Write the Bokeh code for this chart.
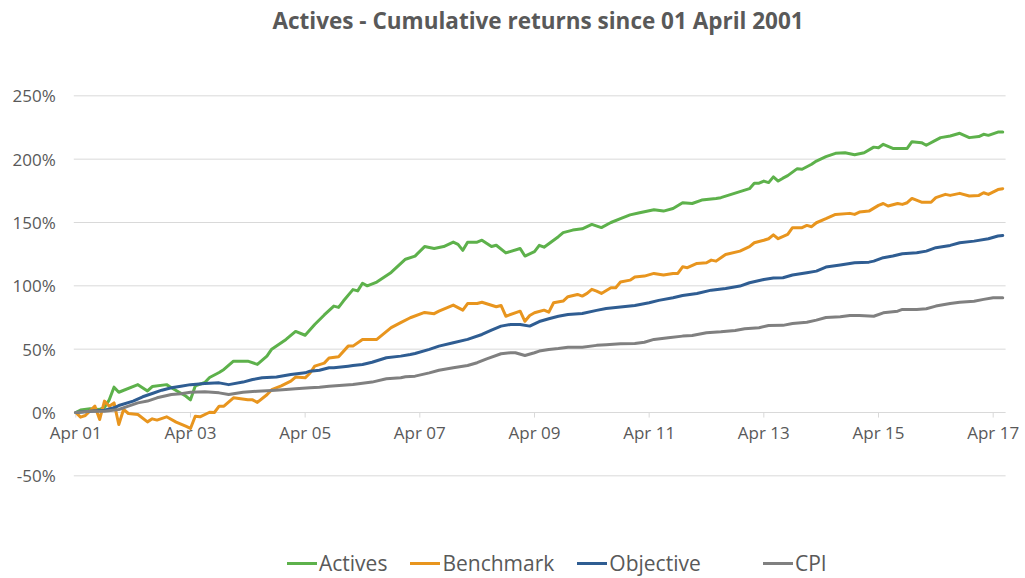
from bokeh.plotting import figure
from bokeh.models import Legend, LegendItem, Range1d, Title
from bokeh.core.properties import value
from bokeh.embed import file_html
from bokeh.resources import INLINE

TITLE = "Actives - Cumulative returns since 01 April 2001"

# x values: months since April 2001
tick_months = [0, 24, 48, 72, 96, 120, 144, 168, 192]
tick_labels = ["Apr 01", "Apr 03", "Apr 05", "Apr 07", "Apr 09", "Apr 11", "Apr 13", "Apr 15", "Apr 17"]
y_ticks = [-50, 0, 50, 100, 150, 200, 250]
y_tick_labels = ["-50%", "0%", "50%", "100%", "150%", "200%", "250%"]

actives_m = [0, 1, 3, 5, 6, 7, 8, 9, 13, 15, 16, 19, 20, 23, 24, 25, 27, 28, 30, 31, 33, 36, 38, 40, 41, 44, 46, 48, 50,
             52, 54, 55, 56, 58, 59, 60, 61, 63, 66, 69, 71, 73, 75, 77, 79, 80, 81, 82, 84, 85, 87, 88, 90, 93, 94,
             96, 97, 98, 101, 102, 104, 106, 108, 110, 112, 114, 116, 118, 121, 123, 125, 127, 129, 131, 134, 135,
             137, 141, 142, 143, 144, 145, 146, 147, 148, 149, 151, 152, 154, 155, 157, 159, 161, 163, 165, 167, 168,
             169, 171, 173, 174, 175, 177, 178, 180, 181, 183, 185, 187, 189, 190, 191, 193, 194]
actives_v = [0, 2, 3, 2.4, 4, 10, 20, 16, 22, 17, 20.5, 22, 19.6, 13, 10, 21, 23.7, 27.6, 31.6, 34, 40.5, 40.5, 38,
             44.5, 50, 57.7, 64, 61, 69.5, 77, 84, 83, 88, 97, 96, 102, 100, 103, 110.6, 121, 123.5, 131, 129.5,
             131, 134.5, 132.7, 128, 134.5, 134.5, 136, 131, 132, 126, 129.5, 123.5, 127, 132, 130.5, 138.8, 142,
             144, 145, 148.5, 146, 150, 153, 156, 157.7, 160, 159, 161, 165.6, 165, 167.7, 169, 169.6, 172, 176.7,
             181, 181, 182.7, 181.5, 186, 182.7, 185, 187, 192.5, 192, 196, 198.5, 202, 204.6, 205, 203.5, 205,
             209.5, 209, 211.7, 208.5, 208.5, 208.5, 213.8, 213, 211, 215, 217, 218.3, 220.4, 217, 217.8, 219.6,
             218.8, 221.4, 221.4]

bench_m = [0, 1, 2, 4, 5, 6, 7, 8, 9, 10, 11, 13, 15, 16, 17, 19, 21, 23, 24, 25, 26, 28, 29, 30, 31, 33, 36, 37, 38,
           40, 41, 43, 45, 46, 48, 49, 50, 52, 53, 55, 57, 58, 60, 63, 66, 68, 70, 73, 75, 76, 79, 81, 82, 84, 85,
           88, 89, 90, 93, 94, 95, 96, 98, 99, 100, 102, 103, 105, 106, 107, 108, 109, 110, 112, 113, 114, 116, 117,
           119, 121, 123, 125, 126, 127, 128, 130, 132, 133, 134, 136, 139, 141, 142, 144, 145, 146, 147, 149, 150,
           152, 153, 154, 155, 157, 159, 162, 163, 164, 166, 168, 169, 170, 172, 173, 174, 175, 177, 179, 180, 182,
           183, 185, 187, 189, 190, 191, 193, 194]
bench_v = [0, -3.7, -2.4, 5, -5.5, 9, 5, 7.6, -9.5, 2.4, -0.8, -1.6, -7.4, -5, -6, -3.4, -7.6, -10.8, -12.6, -2.9,
           -3.4, 0.2, 0, 5, 5, 11.6, 10, 10, 8, 14, 18, 21, 24.7, 28, 27.4, 31, 36.6, 39, 43, 44, 52.4, 52.4, 57.7,
           57.7, 67, 71, 74.8, 79, 78, 80, 84.8, 80.8, 86, 86, 87, 83.5, 84.5, 76, 80, 72, 76.6, 78.7, 80.8, 79.2,
           86.6, 88, 91.4, 93.2, 91.9, 94, 97.2, 95.8, 94, 98.5, 98.5, 103, 104.5, 107, 107.7, 109.8, 108.5, 109.8,
           109.8, 115, 114.3, 117.7, 118.2, 120.3, 119.5, 124.8, 127.4, 130.9, 134, 136, 137.2, 140.2, 137.2, 140.6,
           145.9, 145.9, 147.7, 146.7, 149.8, 153, 156.4, 157.2, 156.4, 158.2, 159, 163.5, 165, 163, 165, 164.3,
           165.6, 169, 166, 166, 169.6, 172.2, 171.4, 173, 170.9, 171.4, 173.5, 172.2, 176, 176.7]

obj_m = [0, 3, 6, 8, 9, 12, 14, 16, 18, 20, 22, 24, 27, 30, 32, 35, 37, 39, 42, 45, 48, 49, 51, 53, 54, 57, 58, 60,
         62, 65, 68, 70, 71, 74, 76, 79, 82, 85, 87, 89, 91, 93, 95, 97, 99, 101, 103, 106, 109, 111, 114, 117, 120,
         122, 125, 127, 130, 133, 136, 139, 141, 144, 146, 148, 150, 153, 155, 157, 160, 163, 166, 167, 169, 171,
         173, 176, 178, 180, 183, 185, 188, 191, 193, 194]
obj_v = [0, 1, 1.8, 3.7, 5.5, 9, 12.4, 15, 17.6, 19.5, 20.8, 22, 22.9, 23.4, 22, 24, 26, 27.4, 28, 30, 31.3, 32.6,
         33.4, 35.3, 35.3, 36.6, 37.1, 37.9, 39.7, 43.2, 44.5, 45.8, 46.6, 49.8, 52.4, 55, 57.7, 61.6, 65, 68.2,
         69.5, 69.5, 68.2, 71.8, 74, 76, 77.4, 78.2, 80.6, 82.1, 83.2, 84.5, 86.6, 88.5, 90.6, 92.4, 94, 96.6, 97.9,
         99.8, 102.4, 105, 106.1, 106.4, 108.5, 110.4, 111.6, 114.8, 116.4, 118.2, 118.7, 119.5, 122.2, 123.5,
         125.3, 126.1, 127.4, 130.1, 131.9, 134, 135.3, 137.2, 139.3, 139.8]

cpi_m = [0, 3, 6, 9, 11, 13, 15, 17, 20, 22, 24, 27, 30, 32, 35, 38, 41, 44, 46, 49, 51, 53, 58, 62, 65, 68, 69, 71,
         74, 76, 79, 82, 84, 86, 89, 91, 92, 94, 96, 97, 99, 101, 103, 106, 109, 111, 114, 117, 119, 121, 124, 127,
         129, 132, 135, 138, 140, 143, 145, 148, 150, 153, 155, 157, 160, 162, 164, 167, 169, 172, 173, 176, 178,
         180, 183, 185, 188, 190, 192, 194]
cpi_v = [0, 1, 1, 2.4, 5, 7.6, 9, 11.6, 14.2, 14.8, 16, 16.3, 15.5, 14.2, 16, 16.8, 17.4, 18.2, 18.7, 19.5, 20, 20.8,
         22.1, 24, 26.6, 27.4, 28.2, 28.7, 31.3, 33.4, 35.3, 37.1, 39.3, 42.4, 46.4, 47.2, 47.2, 45, 47.2, 48.5,
         49.8, 50.6, 51.6, 51.6, 53, 53.5, 54.3, 54.5, 55.5, 57.7, 59, 60.3, 60.8, 63, 63.7, 64.8, 66.1, 66.9, 68.7,
         68.8, 70.3, 71.3, 72.9, 75, 75.6, 76.6, 76.6, 76, 78.7, 80, 81.4, 81.4, 81.9, 84, 86.1, 87.1, 87.9, 89.3,
         90.6, 90.6]

series = [
    ("Actives", actives_m, actives_v, "#5DB14B"),
    ("Benchmark", bench_m, bench_v, "#E8951E"),
    ("Objective", obj_m, obj_v, "#2F5D92"),
    ("CPI", cpi_m, cpi_v, "#808080"),
]

FONT = "Open Sans"
TXT = "#595959"
GRID = "#D9D9D9"

# layout (pixels): plotting area fills the canvas below the title
W, TOP, H = 1020, 80, 578
FH = H - TOP
X0_PX, PX_PER_MONTH = 75.3, 4.778      # where month 0 sits, scale
Y0_PX, PX_PER_PCT = 413 - TOP, 1.2667  # where 0% sits (frame coords), scale
GRID_X0, GRID_X1 = -0.42, 194.6        # grid line extent in months

x_range = Range1d(-X0_PX / PX_PER_MONTH, (W - X0_PX) / PX_PER_MONTH)
y_range = Range1d(-(FH - Y0_PX) / PX_PER_PCT, Y0_PX / PX_PER_PCT)

p = figure(frame_width=W, frame_height=FH, x_range=x_range, y_range=y_range,
           output_backend="svg", toolbar_location=None,
           x_axis_location=None, y_axis_location=None,
           min_border_left=0, min_border_right=0, min_border_top=0, min_border_bottom=0)
p.outline_line_color = None
p.background_fill_color = "white"
p.border_fill_color = "white"
p.xgrid.visible = False
p.ygrid.visible = False

# spacer then title (stacked outward from the plot area)
p.add_layout(Title(text=" ", text_font_size="10px", standoff=29), "above")
p.add_layout(Title(text=TITLE, align="left", offset=272, text_font=FONT, text_font_size="22.5px",
                   text_font_style="bold", text_color=TXT, standoff=4), "above")

# horizontal gridlines (the 0% one doubles as the category axis line)
p.segment(x0=[GRID_X0] * len(y_ticks), x1=[GRID_X1] * len(y_ticks), y0=y_ticks, y1=y_ticks,
          line_color=GRID, line_width=1)
# x-axis tick marks below the 0% line
p.segment(x0=tick_months, x1=tick_months, y0=[0] * len(tick_months), y1=[-4] * len(tick_months),
          line_color=GRID, line_width=1)

# tick labels
p.text(x=[GRID_X0] * len(y_ticks), y=y_ticks, text=y_tick_labels, x_offset=-18,
       text_align="right", text_baseline="middle", text_font=value(FONT),
       text_font_size="17px", text_color=TXT)
p.text(x=tick_months, y=[0] * len(tick_months), text=tick_labels, y_offset=20,
       text_align="center", text_baseline="middle", text_font=value(FONT),
       text_font_size="17px", text_color=TXT)

items = []
for name, m, v, c in series:
    r = p.line(m, v, line_color=c, line_width=3, line_join="round", line_cap="round")
    items.append(LegendItem(label=name, renderers=[r]))


def make_legend(its, loc):
    lg = Legend(items=its, orientation="horizontal", location=loc)
    lg.label_text_font = FONT
    lg.label_text_font_size = "21px"
    lg.label_text_color = TXT
    lg.glyph_width = 30
    lg.glyph_height = 20
    lg.label_standoff = 2
    lg.spacing = 23
    lg.border_line_color = None
    lg.background_fill_alpha = 0
    lg.margin = 0
    lg.padding = 0
    return lg


p.add_layout(make_legend(items[:3], (287, 0)), "center")
p.add_layout(make_legend(items[3:], (763, 0)), "center")

open("out.html", "w").write(file_html(p, INLINE))
